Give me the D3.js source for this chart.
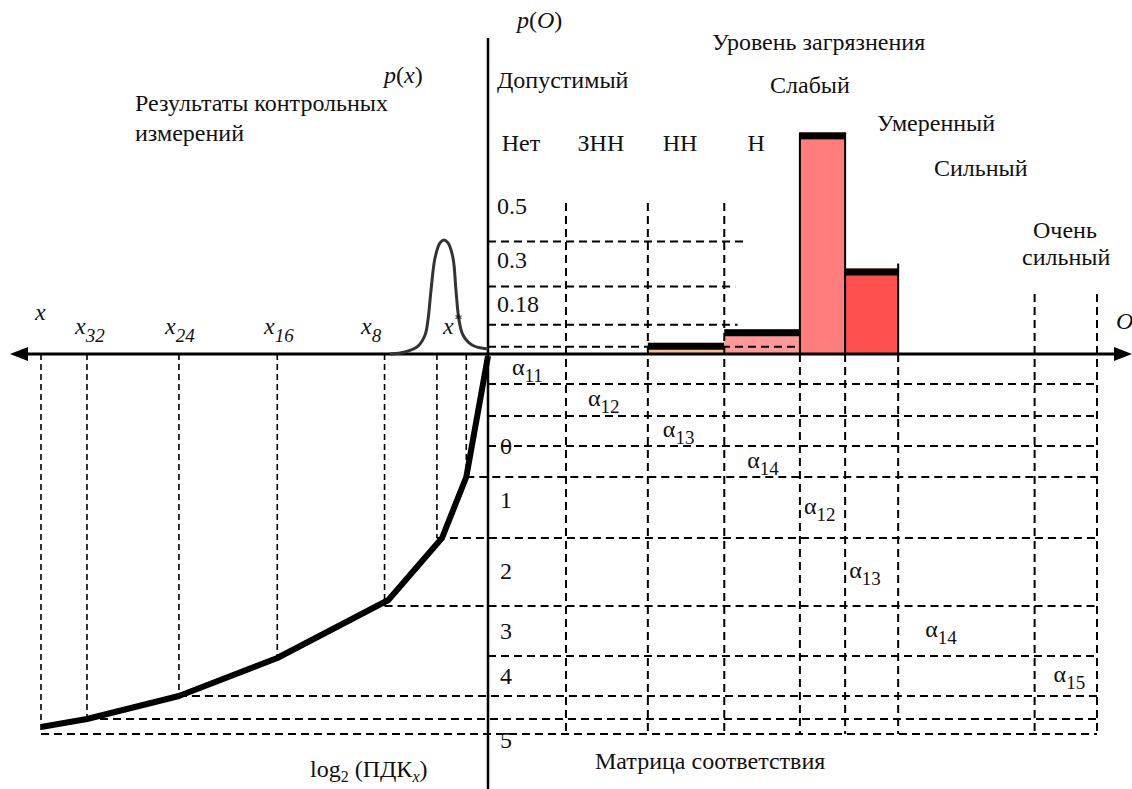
<!DOCTYPE html>
<html><head><meta charset="utf-8">
<script src="https://cdn.jsdelivr.net/npm/d3@7"></script>
<style>
body{margin:0;background:#fff}
svg{display:block;background:#fff}
</style>
</head><body>
<svg id="c" width="1132" height="789"></svg>
<script>
// ---------------- data ----------------
const categories = ["Нет","ЗНН","НН","Н","Слабый","Умеренный","Сильный","Очень сильный"];
const classBounds = [0, 1, 2.05, 3.03, 4, 4.58, 5.26, 7.01, 7.81];     // pollution index O
const pO = [0, 0, 0.05, 0.11, 0.985, 0.38, 0, 0];                     // p(O) per class
const barColors = ["#ffffff","#ffffff","#f9c08c","#ff9a9a","#ff7d7d","#ff5050","#ffffff","#ffffff"];
const pOGrid = [0.5, 0.3, 0.13, 0.032];
const pOGridEnd = [3.32, 3.17, 3.2, 4];
const pOTickLabels = ["0.5","0.3","0.18"];
const measX = [35, 31.4, 24.2, 16.5, 8.1, 4.0, 1.7];                  // measurements x
const measDepth = [38.0, 36.5, 34.2, 30.3, 25.2, 18.4, 12.3];
const curveX = [35, 31.4, 24.2, 16.5, 7.8, 3.6, 1.7, 0];
const curveDepth = [37.3, 36.5, 34.2, 30.4, 24.6, 18.4, 12.3, 0.2];
const bellX = [7.67, 6.5, 5.48, 4.93, 4.7, 4.46, 4.15, 3.76, 3.45, 3.13, 2.74, 2.51, 2.27, 1.96, 1.25, 0];
const bellP = [0, 0.018, 0.07, 0.167, 0.298, 0.561, 0.842, 0.974, 1, 0.974, 0.842, 0.561, 0.298, 0.167, 0.079, 0.044];
const rowBounds = [3.0, 6.2, 9.2, 12.3, 18.4, 25.2, 30.2, 34.2, 36.5, 38.0];
const rowTickLabels = ["0","1","2","3","4","5"];
const rowTickDepth = [9.2, 14.6, 21.7, 27.7, 32.2, 38.6];
const alphaLabels = [["α","11"],["α","12"],["α","13"],["α","14"],["α","12"],["α","13"],["α","14"],["α","15"]];

// ---------------- scales ----------------
const W = 1132, H = 789, axisY = 354, axisX = 488;
const xO = d3.scaleLinear().domain([0, 7.81]).range([axisX, 1097]);
const yP = d3.scaleLinear().domain([0, 1]).range([axisY, 129]);
const xC = d3.scaleLinear().domain([0, 35]).range([axisX, 41]);
const yD = d3.scaleLinear().domain([0, 38]).range([axisY, 734]);
const yB = d3.scaleLinear().domain([0, 1]).range([axisY, 240]);

const FONT = "'Liberation Serif', 'Times New Roman', 'DejaVu Serif', serif";
const svg = d3.select("#c").attr("font-family", FONT).attr("font-size", 24);
const dash = {stroke:"#000","stroke-width":2,"stroke-dasharray":"8,5",fill:"none"};
function L(g, x1,y1,x2,y2, st){ const l=g.append("line").attr("x1",x1).attr("y1",y1).attr("x2",x2).attr("y2",y2); for(const k in st) l.attr(k, st[k]); return l; }

// ---------------- bars ----------------
const gb = svg.append("g");
pO.forEach((v,i)=>{
  if(!v) return;
  const x0 = xO(classBounds[i]), x1 = xO(classBounds[i+1]);
  gb.append("rect").attr("x",x0).attr("y",yP(v)).attr("width",x1-x0).attr("height",axisY-yP(v)).attr("fill",barColors[i]);
  gb.append("rect").attr("x",x0).attr("y",yP(v)).attr("width",x1-x0).attr("height",7).attr("fill","#000");
  if(i>=4){
    L(gb,x0,yP(v),x0,axisY,{stroke:"#000","stroke-width":2});
    L(gb,x1,yP(v)-(i===5?5:0),x1,axisY,{stroke:"#000","stroke-width":2});
  }
});

// ---------------- matrix / grid dashed lines ----------------
const gg = svg.append("g");
pOGrid.forEach((v,i)=> L(gg, axisX, yP(v), xO(pOGridEnd[i]), yP(v), dash));
classBounds.slice(1).forEach((b,i)=>{
  let top = axisY;
  if(i<3) top = 203; else if(i>=6) top = 294;
  L(gg, xO(b), top, xO(b), yD(38), dash);
});
rowBounds.forEach(d=>{
  const k = measDepth.indexOf(d);
  const xs = k>=0 ? xC(measX[k]) : axisX;
  L(gg, xs, yD(d), xO(7.81), yD(d), dash);
});
measX.forEach((m,i)=> L(gg, xC(m), axisY, xC(m), yD(measDepth[i]), {stroke:"#000","stroke-width":1.6,"stroke-dasharray":"6,4"}));

// ---------------- axes ----------------
L(svg, 26, axisY, W-14, axisY, {stroke:"#000","stroke-width":3});
svg.append("path").attr("d",`M10,${axisY}L28,${axisY-7}L28,${axisY+7}Z`).attr("fill","#000");
svg.append("path").attr("d",`M${W},${axisY}L${W-18},${axisY-7}L${W-18},${axisY+7}Z`).attr("fill","#000");
L(svg, axisX, 38, axisX, H, {stroke:"#000","stroke-width":2.5});

// ---------------- bell p(x) ----------------
svg.append("path").datum(bellX.map((x,i)=>[x,bellP[i]]))
  .attr("d", d3.line().x(d=>xC(d[0])).y(d=>yB(d[1])).curve(d3.curveCatmullRom.alpha(0.5)))
  .attr("fill","none").attr("stroke","#333").attr("stroke-width",3);

// ---------------- cumulative curve ----------------
svg.append("path").datum(curveX.map((x,i)=>[x,curveDepth[i]]))
  .attr("d", d3.line().x(d=>xC(d[0])).y(d=>yD(d[1])))
  .attr("fill","none").attr("stroke","#000").attr("stroke-width",6).attr("stroke-linejoin","round");

// ---------------- texts ----------------
function T(x,y,s,it){ const t = svg.append("text").attr("x",x).attr("y",y).attr("fill","#111").text(s); if(it) t.attr("font-style","italic"); return t; }
function sub(t, s, dy, size, it){ const sp = t.append("tspan").attr("dy",dy).attr("font-size",size||17).text(s); if(it) sp.attr("font-style","italic"); return sp; }
function pLabel(x,y,v){ const t = svg.append("text").attr("x",x).attr("y",y).attr("fill","#111");
  t.append("tspan").attr("font-style","italic").text("p"); t.append("tspan").text("(");
  t.append("tspan").attr("font-style","italic").text(v); t.append("tspan").text(")"); }

pLabel(517,28,"O");
pLabel(384,83,"x");

T(712,50,"Уровень загрязнения");
T(497,88,"Допустимый");
T(770,93,categories[4]);
T(877,131,categories[5]);
T(934,176,categories[6]);
T(1033,238,"Очень");
T(1022,265,"сильный");
categories.slice(0,4).forEach((c,i)=>{
  const cx = (xO(classBounds[i])+xO(classBounds[i+1]))/2 - 6;
  T(cx,151,c).attr("text-anchor","middle");
});
pOTickLabels.forEach((s,i)=> T(497, yP(pOGrid[i]) - [28,19,13][i], s));
T(135,111,"Результаты контрольных");
T(135,141,"измерений");

// x labels
T(35,320,"x",true);
[[75,"32"],[165,"24"],[264,"16"],[361,"8"]].forEach(([x,s])=>{ const t=T(x,334,"x",true); sub(t,s,8,19); });
{ const t=T(443,334,"x",true); t.append("tspan").attr("dy",-9).attr("font-size",16).text("*"); }
T(1116,329,"O",true);

// row tick labels
rowTickLabels.forEach((s,i)=> T(500, yD(rowTickDepth[i])+8, s));

// alpha diagonal
const alphaDx = [24, 22, 15, 23, 4, 4, 27, 19];
alphaLabels.forEach((a,i)=>{
  const rTop = i===0 ? axisY : yD(rowBounds[i-1]);
  const rBot = yD(rowBounds[i]);
  const t = T(xO(classBounds[i]) + alphaDx[i], (rTop+rBot)/2 + 6, a[0]);
  sub(t, a[1], 7, 19);
});

// bottom labels
{ const t=T(310,777,"log"); sub(t,"2",5,16); t.append("tspan").attr("dy",-5).text(" (ПДК"); sub(t,"x",5,16,true); t.append("tspan").attr("dy",-5).text(")"); }
T(595,769,"Матрица соответствия");
</script>
</body></html>
